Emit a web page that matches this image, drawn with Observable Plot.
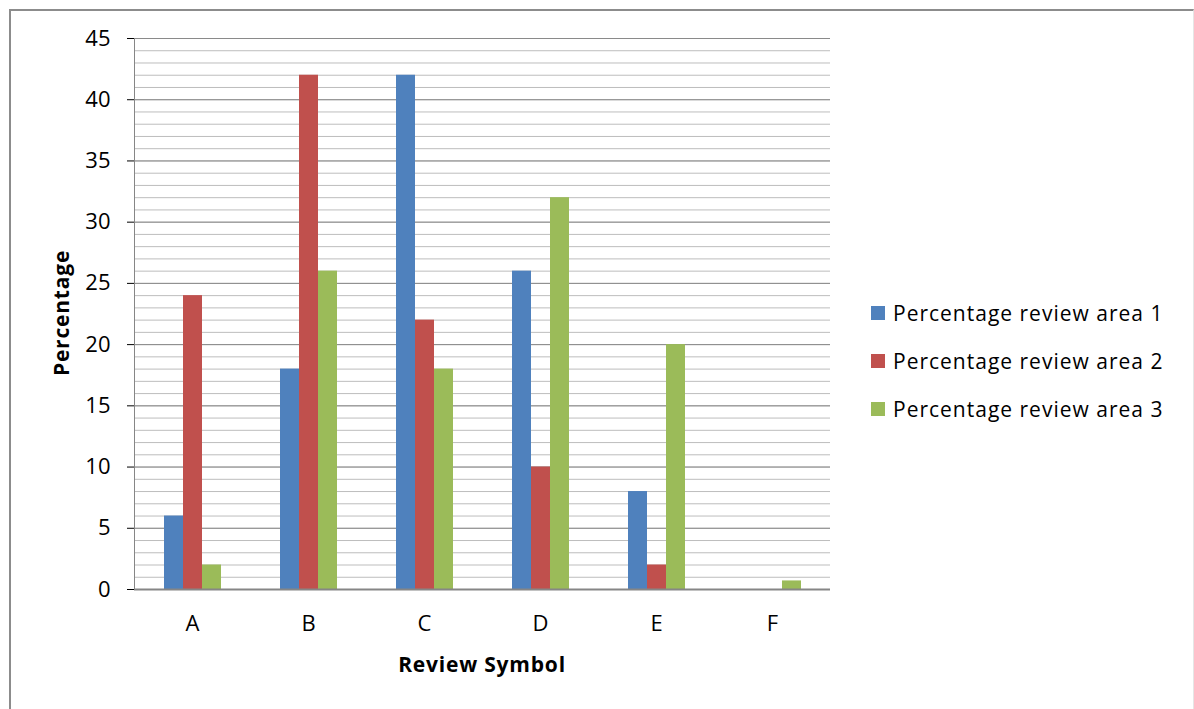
<!DOCTYPE html>
<html>
<head>
<meta charset="utf-8">
<script src="https://cdn.jsdelivr.net/npm/d3@7"></script>
<script src="https://cdn.jsdelivr.net/npm/@observablehq/plot@0.6"></script>
<style>
  html, body { margin: 0; padding: 0; background: #fff; }
  body { width: 1194px; height: 709px; overflow: hidden; position: relative; font-family: "Open Sans", sans-serif; }
  #box { position: absolute; left: 9px; top: 9px; width: 1185px; height: 740px; border-top: 2px solid #8c8c8c; border-left: 2px solid #8c8c8c; border-right: 1px solid #e6e6e6; box-sizing: border-box; }
  #chart { position: absolute; left: 0; top: 0; }
  #chart svg text { font-size: 22px; }
  .ytitle { position: absolute; left: 61px; top: 313px; transform: translate(-50%, -50%) rotate(-90deg); font-weight: bold; font-size: 21px; letter-spacing: 0.8px; white-space: nowrap; }
  .xtitle { position: absolute; left: 482px; top: 664px; transform: translate(-50%, -50%); font-weight: bold; font-size: 21px; letter-spacing: 0.8px; white-space: nowrap; }
  #legend { position: absolute; left: 871px; top: 289px; font-size: 21px; letter-spacing: 1px; }
  #legend .row { display: flex; align-items: center; height: 48px; white-space: nowrap; }
  #legend .sw { width: 14px; height: 14px; margin-right: 8px; flex: none; }
</style>
</head>
<body>
<div id="box"></div>
<div id="chart"></div>
<div class="ytitle">Percentage</div>
<div class="xtitle">Review Symbol</div>
<div id="legend"></div>
<script>
// Review symbols along the horizontal axis
const categories = ["A", "B", "C", "D", "E", "F"];
// One series per review area
const series = ["Percentage review area 1", "Percentage review area 2", "Percentage review area 3"];
const area1 = [6, 18, 42, 26, 8, 0];
const area2 = [24, 42, 22, 10, 2, 0];
const area3 = [2, 26, 18, 32, 20, 0.7];
const colors = ["#4F81BD", "#C0504D", "#9BBB59"];
const yTicks = [0, 5, 10, 15, 20, 25, 30, 35, 40, 45];
const yMinor = d3.range(0, 46, 1);

// Long table: one row per (symbol, area)
const rows = [];
[area1, area2, area3].forEach((vals, s) => {
  categories.forEach((c, i) => rows.push({symbol: c, area: series[s], value: vals[i]}));
});

const chart = Plot.plot({
  width: 1194,
  height: 709,
  marginLeft: 134,
  marginRight: 364,
  marginTop: 38,
  marginBottom: 120,
  style: {fontFamily: "Open Sans, sans-serif", fontSize: "22px", color: "#000", background: "transparent"},
  fx: {domain: categories, padding: 0, axis: "bottom", label: null, tickSize: 0, tickPadding: 26},
  x: {domain: series, axis: null, paddingInner: 0, paddingOuter: 1.51},
  y: {domain: [0, 45], ticks: yTicks, tickSize: 7, tickPadding: 17, label: null},
  color: {domain: series, range: colors},
  marks: [
    Plot.ruleY(yMinor, {stroke: "#bdbdbd", strokeWidth: 1}),
    Plot.ruleY(yTicks, {stroke: "#8a8a8a", strokeWidth: 1}),
    Plot.barY(rows, {fx: "symbol", x: "area", y: "value", fill: "area"}),
    Plot.ruleY([0], {stroke: "#868686", strokeWidth: 2}),
    Plot.frame({anchor: "left", facetAnchor: "left", stroke: "#868686"})
  ]
});
document.getElementById("chart").appendChild(chart);

// Legend entries
const legend = d3.select("#legend");
series.forEach((s, i) => {
  const row = legend.append("div").attr("class", "row");
  row.append("div").attr("class", "sw").style("background", colors[i]);
  row.append("span").text(s);
});
</script>
</body>
</html>
